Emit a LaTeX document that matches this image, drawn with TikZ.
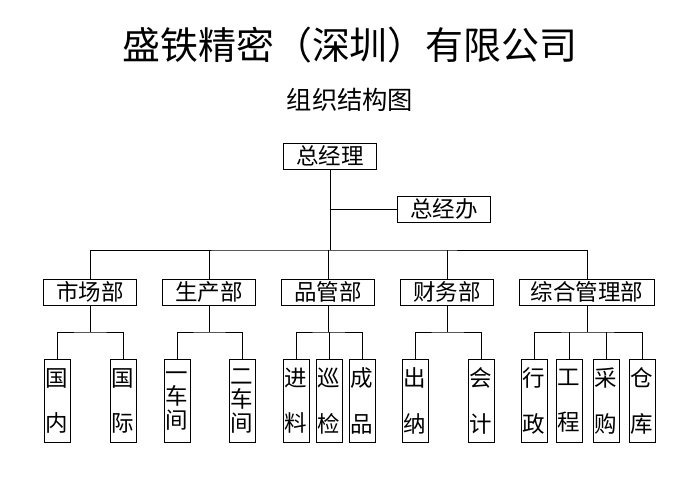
\documentclass[tikz,border=0pt]{standalone}
\usepackage{fontspec}
\newfontfamily\cjk{Noto Sans CJK SC}
\usetikzlibrary{positioning}

\begin{document}
\begin{tikzpicture}[x=0.025cm,y=-0.025cm,font=\cjk,
    every node/.style={inner sep=0pt},
    box/.style={draw,minimum height=0.65cm,font=\cjk\fontsize{16}{18}\selectfont},
    vbox/.style={draw,minimum width=0.65cm,minimum height=2.08cm,align=center,font=\cjk\fontsize{16}{18}\selectfont}]
    \useasboundingbox (0,0) rectangle (700,500);
    \node (title) at (350,45) {\fontsize{27}{30}\selectfont 盛铁精密（深圳）有限公司};
    \node (sub) at (350,100) {\fontsize{18}{20}\selectfont 组织结构图};
    \node[box,minimum width=2.33cm] (gm) at (330,156) {总经理};
    \node[box,minimum width=2.33cm] (office) at (444,209) {总经办};
    \node[box,minimum width=2.33cm] (mkt) at (90,292) {市场部};
    \node[box,minimum width=2.33cm] (prod) at (209,292) {生产部};
    \node[box,minimum width=2.33cm] (qc) at (328,292) {品管部};
    \node[box,minimum width=2.33cm] (fin) at (447,292) {财务部};
    \node[box,minimum width=3.38cm] (adm) at (587,292) {综合管理部};
    \node[vbox] (dom) at (57,401) {国\\[0.5cm]内};
    \node[vbox] (intl) at (123,401) {国\\[0.5cm]际};
    \node[vbox] (w1) at (177,401) {一\\[-0.04cm]车\\[-0.04cm]间};
    \node[vbox] (w2) at (242,401) {二\\[-0.04cm]车\\[-0.04cm]间};
    \node[vbox] (inc) at (296,401) {进\\[0.5cm]料};
    \node[vbox] (pat) at (329,401) {巡\\[0.5cm]检};
    \node[vbox] (fp) at (362,401) {成\\[0.5cm]品};
    \node[vbox] (cash) at (415,401) {出\\[0.5cm]纳};
    \node[vbox] (acc) at (481,401) {会\\[0.5cm]计};
    \node[vbox] (adm1) at (534,401) {行\\[0.5cm]政};
    \node[vbox] (eng) at (569,401) {工\\[0.5cm]程};
    \node[vbox] (pur) at (606,401) {采\\[0.5cm]购};
    \node[vbox] (wh) at (642,401) {仓\\[0.5cm]库};
    \coordinate (bus) at (330,250);
    \draw (gm) -- (bus);
    \draw (gm |- office) -- (office);
    \draw (mkt) |- (bus) -| (adm);
    \foreach \d in {prod,qc,fin}
        \draw (\d) -- (\d |- bus);
    \draw (mkt) -- ++(0,40) coordinate (m1);
    \draw (dom) |- (m1) -| (intl);
    \draw (prod) -- ++(0,40) coordinate (p1);
    \draw (w1) |- (p1) -| (w2);
    \draw (qc) -- ++(0,40) coordinate (q1);
    \draw (inc) |- (q1) -| (fp);
    \draw (pat) -- (pat |- q1);
    \draw (fin) -- ++(0,40) coordinate (f1);
    \draw (cash) |- (f1) -| (acc);
    \draw (adm) -- ++(0,40) coordinate (a1);
    \draw (adm1) |- (a1) -| (wh);
    \foreach \d in {eng,pur}
        \draw (\d) -- (\d |- a1);
\end{tikzpicture}
\end{document}
